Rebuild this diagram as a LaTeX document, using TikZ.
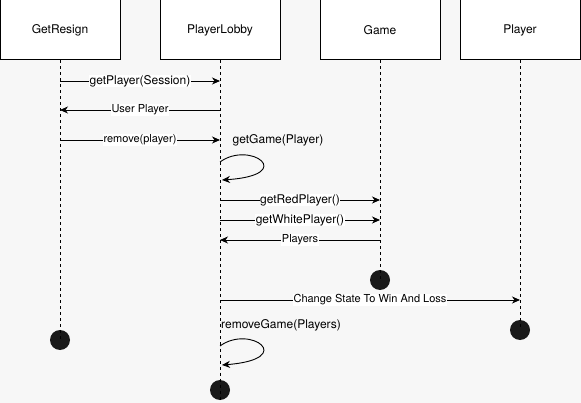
\documentclass[tikz,border=0pt]{standalone}
\usepackage{fontspec}
\setmainfont{TeX Gyre Heros}
\usetikzlibrary{arrows.meta,calc}
\definecolor{BackClr}{rgb}{0.97,0.97,0.97}
\definecolor{DotClr}{rgb}{0.1,0.1,0.1}

\begin{document}
\begin{tikzpicture}[x=1pt,y=-1pt,
  actor/.style={draw,line width=1pt,fill=white,minimum width=120pt,minimum height=60pt,inner sep=0pt,font=\fontsize{12}{14}\selectfont},
  lifeline/.style={line width=0.9pt,dash pattern=on 3pt off 3pt},
  msg/.style={line width=0.9pt,-{Stealth[length=8pt,width=7pt,inset=2.5pt]}},
  lbl/.style={fill=white,inner sep=0.5pt,font=\fontsize{11}{13}\selectfont},
  biglbl/.style={lbl,font=\fontsize{12}{14}\selectfont},
  note/.style={inner sep=0pt,font=\fontsize{12}{14}\selectfont},
  enddot/.style={circle,fill=DotClr,minimum size=20pt,inner sep=0pt}]
\fill[BackClr] (0,0) rectangle (581,403);
\useasboundingbox (0,0) rectangle (581,403);

\node[actor] (resign) at (60,30) {GetResign};
\node[actor] (lobby) at (220,30) {PlayerLobby};
\node[actor] (game) at (380,30) {Game};
\node[actor] (player) at (520,30) {Player};

\node[enddot] (resignEnd) at (60,340) {};
\node[enddot] (lobbyEnd) at (220,390) {};
\node[enddot] (gameEnd) at (380,280) {};
\node[enddot] (playerEnd) at (520,330) {};

\draw[lifeline] (resign.south) -- (resignEnd.center);
\draw[lifeline] (lobby.south) -- (lobbyEnd.south);
\draw[lifeline] (game.south) -- (gameEnd.center);
\draw[lifeline] (player.south) -- (playerEnd.center);

\draw[msg] (resign.south |- 0,81) -- node[biglbl]{getPlayer(Session)} (lobby.south |- 0,81);
\draw[msg] (lobby.south |- 0,110) -- node[lbl]{User Player} (resign.south |- 0,110);
\draw[msg] (resign.south |- 0,140) -- node[lbl]{remove(player)} (lobby.south |- 0,140);

\node[note] (getGame) at (278,140) {getGame(Player)};
\draw[msg] (lobby.south |- 0,162) .. controls (250,140) and (298,175) .. (222,180);

\draw[msg] (lobby.south |- 0,200) -- node[biglbl]{getRedPlayer()} (game.south |- 0,200);
\draw[msg] (lobby.south |- 0,220) -- node[biglbl]{getWhitePlayer()} (game.south |- 0,220);
\draw[msg] (game.south |- 0,240) -- node[lbl]{Players} (lobby.south |- 0,240);

\draw[msg] (lobby.south |- 0,300) -- node[lbl]{Change State To Win And Loss} (player.south |- 0,300);

\node[note] (removeGame) at (281,325) {removeGame(Players)};
\draw[msg] (lobby.south |- 0,346) .. controls (250,324) and (298,359) .. (222,365);

\end{tikzpicture}
\end{document}
